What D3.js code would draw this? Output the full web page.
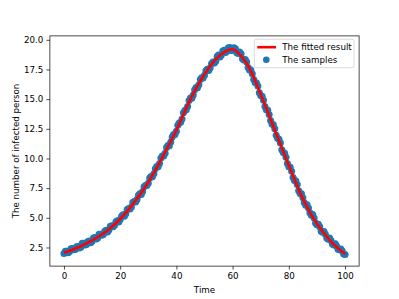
<!DOCTYPE html>
<html>
<head>
<meta charset="utf-8">
<script src="https://cdn.jsdelivr.net/npm/d3@7"></script>
<style>
  body { margin: 0; background: #fff; }
  text { font-family: "DejaVu Sans", sans-serif; }
</style>
</head>
<body>
<div id="chart"></div>
<script>
// fitted curve, every 5 time units
const fitTimes = d3.range(0, 101, 5);
const fitValues = [2.05, 2.5, 3.1, 3.85, 4.9, 6.3, 8.0, 10.1, 12.4, 15.0, 17.1,
  18.6, 19.2, 18.0, 15.4, 12.4, 9.4, 6.6, 4.5, 3.0, 1.95];

// noisy samples at whole time units (0..100)
const samplesWhole = [2.0, 2.18, 2.15, 2.42, 2.33, 2.58, 2.52, 2.85, 2.76, 3.05, 3.02,
  3.35, 3.30, 3.62, 3.60, 3.95, 3.98, 4.32, 4.38, 4.75, 4.85,
  5.25, 5.35, 5.78, 5.92, 6.38, 6.55, 7.02, 7.22, 7.72, 7.92,
  8.48, 8.72, 9.32, 9.58, 10.2, 10.45, 11.1, 11.38, 12.02, 12.3,
  13.0, 13.32, 14.05, 14.38, 15.1, 15.35, 15.98, 16.22, 16.8, 17.02,
  17.52, 17.62, 18.12, 18.2, 18.72, 18.72, 19.12, 19.05, 19.35, 19.12,
  19.25, 18.85, 18.82, 18.3, 18.12, 17.45, 17.15, 16.4, 16.1, 15.3,
  14.9, 14.1, 13.7, 12.9, 12.5, 11.7, 11.3, 10.5, 10.1, 9.3,
  8.92, 8.15, 7.8, 7.05, 6.7, 6.05, 5.82, 5.22, 4.98, 4.42,
  4.25, 3.78, 3.62, 3.2, 3.08, 2.7, 2.63, 2.3, 2.2, 1.9];

// noisy samples at half time units (0.5..99.5)
const samplesHalf = [2.19, 2.05, 2.40, 2.30, 2.57, 2.46, 2.85, 2.70, 3.0, 2.89,
  3.29, 3.21, 3.62, 3.53, 3.87, 3.81, 4.29, 4.24, 4.67, 4.64,
  5.13, 5.13, 5.70, 5.75, 6.31, 6.34, 6.91, 6.96, 7.61, 7.72,
  8.35, 8.47, 9.14, 9.30, 10.04, 10.21, 10.92, 11.08, 11.82, 12.03,
  12.81, 13.05, 13.85, 14.11, 14.88, 15.07, 15.79, 15.95, 16.65, 16.78,
  17.40, 17.41, 17.98, 18.05, 18.60, 18.56, 19.05, 18.94, 19.34, 19.11,
  19.33, 18.91, 18.97, 18.41, 18.35, 17.66, 17.46, 16.65, 16.37, 15.53,
  15.24, 14.38, 14.06, 13.2, 12.85, 11.96, 11.62, 10.74, 10.44, 9.58,
  9.27, 8.40, 8.10, 7.28, 7.02, 6.26, 6.10, 5.43, 5.27, 4.56,
  4.46, 3.87, 3.85, 3.30, 3.30, 2.79, 2.82, 2.35, 2.38, 1.95];

const xTicks = [0, 20, 40, 60, 80, 100];
const yTicks = [2.5, 5.0, 7.5, 10.0, 12.5, 15.0, 17.5, 20.0];
const legendLabels = ["The fitted result", "The samples"];

const samples = samplesWhole.map((v, i) => ({t: i, v: v}))
  .concat(samplesHalf.map((v, i) => ({t: i + 0.5, v: v})));

const W = 399, H = 299;
const margin = {top: 35.9, right: 39.9, bottom: 32.9, left: 49.9},
  width = W - margin.left - margin.right,
  height = H - margin.top - margin.bottom;

const svg = d3.select("#chart").append("svg")
  .attr("width", W).attr("height", H);
const g = svg.append("g")
  .attr("transform", `translate(${margin.left},${margin.top})`);

const x = d3.scaleLinear().domain([-5, 105]).range([0, width]);
const y = d3.scaleLinear().domain([0.93, 20.33]).range([height, 0]);

// samples
g.selectAll("circle.sample")
  .data(samples)
  .join("circle")
    .attr("class", "sample")
    .attr("cx", d => x(d.t))
    .attr("cy", d => y(d.v))
    .attr("r", 3.5)
    .style("fill", "#1f77b4");

// fitted line
const line = d3.line()
  .x(d => x(d))
  .y((d, i) => y(fitValues[i]))
  .curve(d3.curveCatmullRom);
g.append("path")
  .datum(fitTimes)
  .attr("d", line)
  .style("fill", "none")
  .style("stroke", "red")
  .style("stroke-width", 2.6);

// axes
const xAxis = g.append("g")
  .attr("transform", `translate(0,${height})`)
  .call(d3.axisBottom(x).tickValues(xTicks).tickSize(3.5).tickPadding(3).tickFormat(d3.format("d")));
const yAxis = g.append("g")
  .call(d3.axisLeft(y).tickValues(yTicks).tickSize(3.5).tickPadding(3).tickFormat(d3.format(".1f")));
[xAxis, yAxis].forEach(a => {
  a.selectAll("text").style("font-size", "8.7px").style("fill", "#000")
    .style("font-family", "DejaVu Sans");
  a.selectAll("line").style("stroke", "#000").style("stroke-width", 0.7);
  a.select(".domain").remove();
});

// spines
g.append("rect")
  .attr("width", width).attr("height", height)
  .style("fill", "none").style("stroke", "#000").style("stroke-width", 0.7);

// axis labels
g.append("text")
  .attr("x", width / 2).attr("y", height + 27)
  .attr("text-anchor", "middle")
  .style("font-size", "8.7px")
  .text("Time");
g.append("text")
  .attr("transform", `translate(${-31},${height / 2}) rotate(-90)`)
  .attr("text-anchor", "middle")
  .style("font-size", "8.7px")
  .text("The number of infected person");

// legend
const lg = g.append("g").attr("transform", `translate(${width - 104.8},3.4)`);
lg.append("rect")
  .attr("width", 99.7).attr("height", 28.4)
  .attr("rx", 2)
  .style("fill", "#fff").style("fill-opacity", 0.8)
  .style("stroke", "#ccc").style("stroke-width", 0.7);
lg.append("line")
  .attr("x1", 3).attr("x2", 21.7).attr("y1", 7.9).attr("y2", 7.9)
  .style("stroke", "red").style("stroke-width", 2.6);
lg.append("circle")
  .attr("cx", 12).attr("cy", 20.4).attr("r", 3.3)
  .style("fill", "#1f77b4");
lg.selectAll("text.leg")
  .data(legendLabels)
  .join("text")
    .attr("class", "leg")
    .attr("x", 28)
    .attr("y", (d, i) => 7.9 + i * 12.5)
    .attr("dy", "0.35em")
    .style("font-size", "8.7px")
    .text(d => d);
</script>
</body>
</html>
